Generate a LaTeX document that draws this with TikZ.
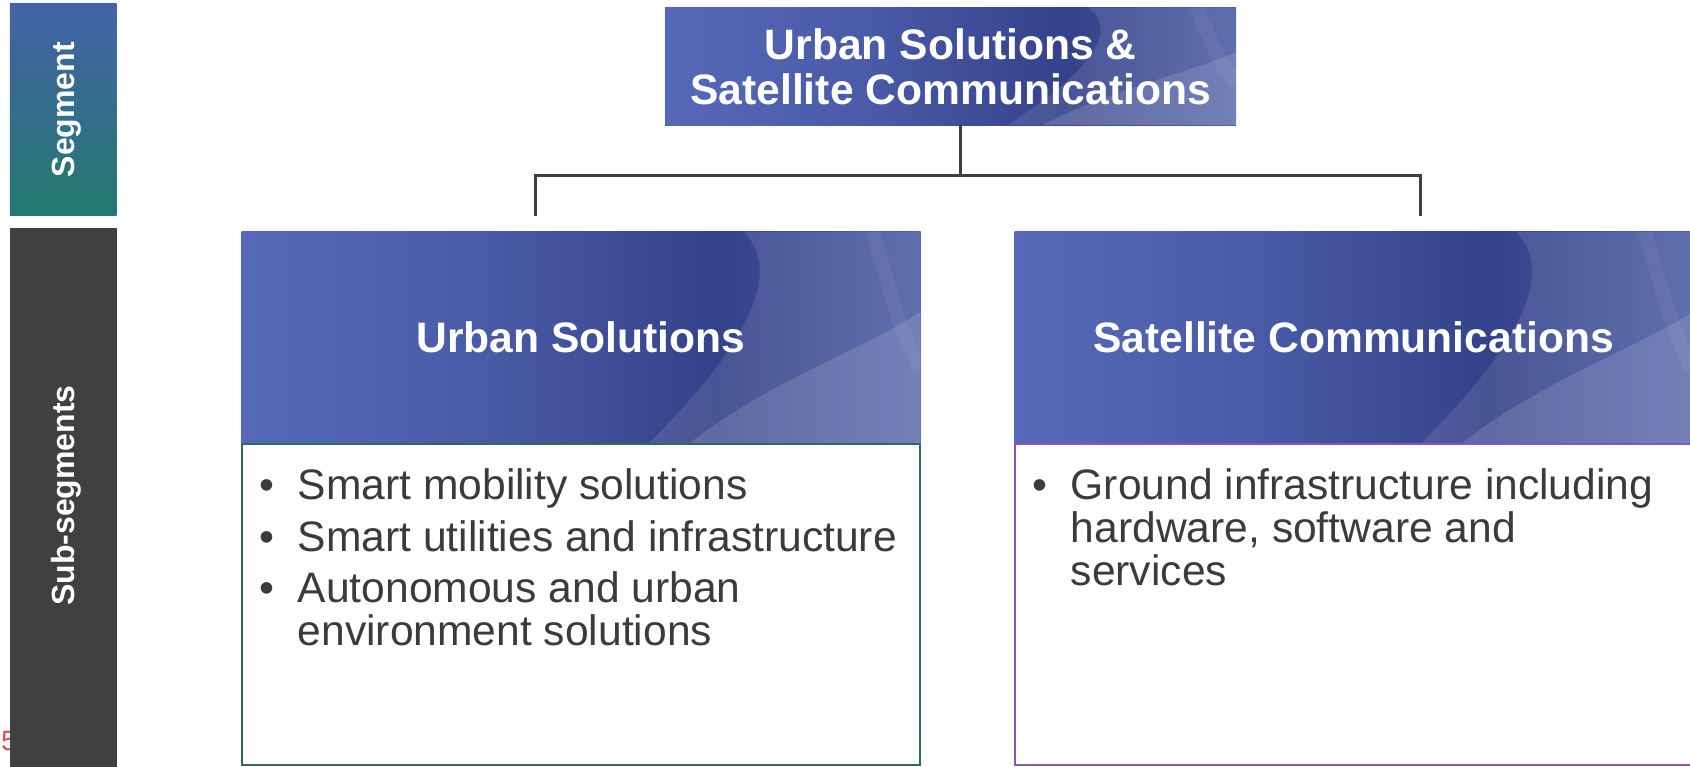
\documentclass[tikz,border=0pt]{standalone}
\usepackage{fontspec}
\setmainfont{Liberation Sans}
\usetikzlibrary{positioning,calc}

\definecolor{segtop}{HTML}{4462A6}
\definecolor{segbot}{HTML}{237A70}
\definecolor{subgray}{HTML}{404040}
\definecolor{hdrA}{HTML}{5669B8}
\definecolor{hdrB}{HTML}{34428A}
\definecolor{hdrC}{HTML}{4E5FA6}
\definecolor{linkgray}{HTML}{3F3F3F}
\definecolor{greenedge}{HTML}{2E6B59}
\definecolor{purpleedge}{HTML}{8A55B6}
\definecolor{bodytext}{HTML}{3B3B3B}
\definecolor{pagered}{HTML}{E0485A}

\pgfdeclarehorizontalshading{hdrshade}{100bp}{color(0bp)=(hdrA); color(25bp)=(hdrA);
  color(42bp)=(hdrA!65!hdrB); color(60bp)=(hdrB); color(75bp)=(hdrC); color(100bp)=(hdrC)}

\newcommand{\itembul}{\makebox[38pt][l]{\textbullet}}

\tikzset{
  sidebox/.style={anchor=north west, minimum width=106.7pt, inner sep=0pt},
  sidelabel/.style={rotate=90, text=white, inner sep=0pt, font=\fontsize{32}{36}\selectfont\bfseries},
  hdr/.style={shading=hdrshade, anchor=north west, inner sep=0pt, text=white, align=center,
    font=\fontsize{42.6}{45}\selectfont\bfseries,
    path picture={
      \fill[white, opacity=.10] let \p1=(path picture bounding box.south west),
        \p2=(path picture bounding box.north east), \n1={\x2-\x1}, \n2={\y2-\y1} in
        (\x1+0.60*\n1,\y1) .. controls (\x1+0.74*\n1,\y1+0.45*\n2) and (\x1+0.80*\n1,\y1+0.80*\n2) .. (\x1+0.74*\n1,\y2)
        -- (\x2,\y2) -- (\x2,\y1) -- cycle;
      \fill[white, opacity=.13] let \p1=(path picture bounding box.south west),
        \p2=(path picture bounding box.north east), \n1={\x2-\x1}, \n2={\y2-\y1} in
        (\x1+0.66*\n1,\y1) .. controls (\x1+0.78*\n1,\y1+0.30*\n2) and (\x1+0.90*\n1,\y1+0.42*\n2) .. (\x2,\y1+0.62*\n2)
        -- (\x2,\y1) -- cycle;
      \draw[white, opacity=.05, line width=14pt] let \p1=(path picture bounding box.south west),
        \p2=(path picture bounding box.north east), \n1={\x2-\x1}, \n2={\y2-\y1} in
        (\x1+0.93*\n1,\y2) .. controls (\x1+0.97*\n1,\y1+0.55*\n2) .. (\x2,\y1+0.35*\n2);
    }},
  bodybox/.style={fill=white, line width=2pt, anchor=north, minimum height=321pt, inner sep=0pt},
  item/.style={anchor=base west, inner sep=0pt, text=bodytext, align=left,
    font=\fontsize{42.6}{43}\selectfont},
  link/.style={draw=linkgray, line width=3pt}
}

\begin{document}
\begin{tikzpicture}[x=1pt, y=1pt]
  \useasboundingbox (0,0) rectangle (1690,-766);

  % left column
  \node[anchor=base west, inner sep=0pt, text=pagered, font=\fontsize{28}{30}\selectfont] (pgno) at (1,-750) {5};
  \node[sidebox, top color=segtop, bottom color=segbot, minimum height=212.4pt] (Seg) at (9.7,-3.2) {};
  \node[sidelabel] (SegText) at ([xshift=3pt]Seg.center) {Segment};
  \node[sidebox, fill=subgray, minimum height=540pt] (Sub) at (9.7,-227.4) {};
  \node[sidelabel] (SubText) at ([xshift=3pt,yshift=2pt]Sub.center) {Sub-segments};

  % segment
  \node[hdr, minimum width=571pt, minimum height=117.5pt] (Top) at (665,-7.5)
    {Urban Solutions \&\\Satellite Communications};

  % sub-segments
  \node[hdr, minimum width=679pt, minimum height=211.3pt] (HdrL) at (241.4,-231.7) {Urban Solutions};
  \node[hdr, minimum width=678pt, minimum height=211.3pt, right=93.6pt of HdrL.north east, anchor=north west] (HdrR) {Satellite Communications};
  \node[bodybox, draw=greenedge, minimum width=678pt] (BodyL) at (HdrL.south) {};
  \node[bodybox, draw=purpleedge, minimum width=677pt] (BodyR) at (HdrR.south) {};

  % multi-line items sit on their last baseline
  \node[item] (mob) at (259.6,-499) {\itembul Smart mobility solutions};
  \node[item] (util) at (259.6,-551) {\itembul Smart utilities and infrastructure};
  \node[item] (auto) at (259.6,-645) {\itembul Autonomous and urban\\\hspace*{38pt}environment solutions};
  \node[item] (ground) at (1032.6,-585) {\itembul Ground infrastructure including\\\hspace*{38pt}hardware, software and\\\hspace*{38pt}services};

  % connectors
  \coordinate (barL) at (535.7,-175);
  \coordinate (barR) at (1420.5,-175);
  \coordinate (dropL) at (535.7,-215.6);
  \coordinate (dropR) at (1420.5,-215.6);
  \draw[link] ([xshift=9.5pt]Top.south) -- ([xshift=9.5pt]Top.south |- barL);
  \draw[link] (dropL) -- (barL) -- (barR) -- (dropR);
\end{tikzpicture}
\end{document}
